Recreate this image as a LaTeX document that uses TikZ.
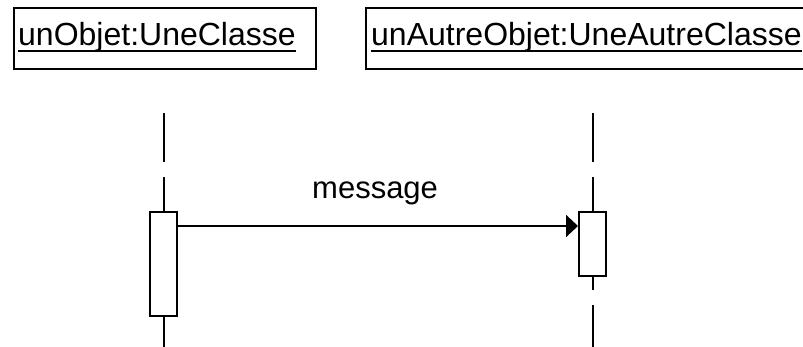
\documentclass[tikz,border=0pt]{standalone}
\usepackage{fontspec}
\setmainfont{Liberation Sans}
\usetikzlibrary{arrows.meta}
\begin{document}
\begin{tikzpicture}[x=1pt,y=-1pt,
  objbox/.style={draw,line width=2pt,inner sep=0pt,anchor=north west},
  objtext/.style={anchor=base west,inner sep=0pt,font=\fontsize{32}{38}\selectfont},
  msgtext/.style={anchor=base west,inner sep=0pt,font=\fontsize{31}{37}\selectfont},
  uline/.style={line width=2pt},
  lifeline/.style={line width=2pt,dash pattern=on 49pt off 15pt},
  actbox/.style={draw,fill=white,line width=2pt,inner sep=0pt,minimum width=27pt},
  msgarrow/.style={line width=2pt,-{Triangle[length=12pt,width=22pt]}}]
\useasboundingbox[clip] (0,0) rectangle (803,346);
\fill[white] (0,0) rectangle (803,346);
% object boxes
\node[objbox,minimum width=302pt,minimum height=61pt] (o1) at (13,7) {};
\node[objbox,minimum width=460pt,minimum height=61pt] (o2) at (365,7) {};
\node[objtext] (t1) at (18,45) {unObjet:UneClasse};
\node[objtext] (t2) at (371,45) {unAutreObjet:UneAutreClasse};
\draw[uline] ([yshift=-6pt]t1.base west) -- ([yshift=-6pt]t1.base east);
\draw[uline] ([yshift=-6pt]t2.base west) -- ([yshift=-6pt]t2.base east);
% lifelines
\coordinate (l1top) at (163.5,113);
\coordinate (l1bot) at (163.5,360);
\coordinate (l2top) at (592.5,113);
\coordinate (l2bot) at (592.5,360);
\draw[lifeline] (l1top) -- (l1bot);
\draw[lifeline] (l2top) -- (l2bot);
% activations
\node[actbox,minimum height=104pt] (a1) at (163.5,264) {};
\node[actbox,minimum height=64pt] (a2) at (592.5,244) {};
% message
\coordinate (m) at (0,226);
\draw[msgarrow] (a1.east |- m) -- (a2.west |- m);
\node[msgtext] (msg) at (312,198) {message};
\end{tikzpicture}
\end{document}
